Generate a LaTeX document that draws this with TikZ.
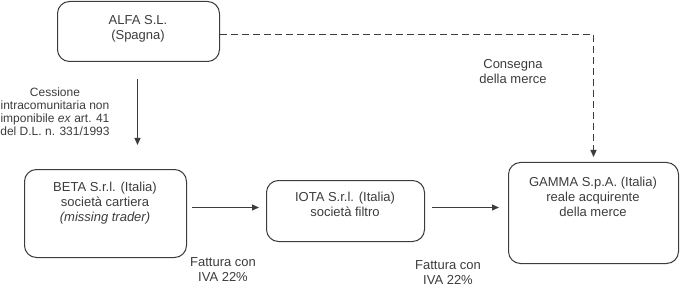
\documentclass[tikz,border=0pt]{standalone}
\usepackage{fontspec}
\setmainfont{Liberation Sans}
\usetikzlibrary{arrows.meta}
\definecolor{ink}{RGB}{60,60,60}
\begin{document}
\begin{tikzpicture}[x=1pt,y=-1pt,every node/.style={font=\fontsize{13}{15}\selectfont,text=ink,align=center},
  box/.style={draw=ink,line width=1pt,rounded corners=12pt,anchor=north west,inner sep=0pt},
  arr/.style={draw=ink,line width=1.1pt,-{Triangle[length=7pt,width=6pt]}}]
\useasboundingbox (0,0) rectangle (680,302);
\node[box,minimum width=162pt,minimum height=60pt] (alfa) at (57,1) {}; \node (alfatxt) at (138,28.5) {ALFA S.L.\\(Spagna)};
\node[box,minimum width=162pt,minimum height=88pt] (beta) at (24,169) {}; \node (betatxt) at (105,203) {BETA S.r.l. (Italia)\\società cartiera\\\textit{(missing trader)}};
\node[box,minimum width=158pt,minimum height=61pt] (iota) at (266,180) {}; \node (iotatxt) at (345,204.5) {IOTA S.r.l. (Italia)\\società filtro};
\node[box,minimum width=170pt,minimum height=101pt] (gamma) at (508,162) {}; \node (gammatxt) at (593,197) {GAMMA S.p.A. (Italia)\\reale acquirente\\della merce};
\node[font=\fontsize{12}{13}\selectfont] (cessione) at (55,111.5) {Cessione\\intracomunitaria non\\imponibile \textit{ex} art. 41\\del D.L. n. 331/1993};
\node (consegna) at (513,71.5) {Consegna\\della merce};
\node (fattura1) at (223,269.5) {Fattura con\\IVA 22\%};
\node (fattura2) at (448,272.5) {Fattura con\\IVA 22\%};
\draw[arr,shorten <=17pt,shorten >=24pt] ([xshift=-1pt]alfa.south) -- ([xshift=-1pt]alfa.south |- beta.north);
\draw[arr,shorten <=5pt,shorten >=7pt] ([yshift=6pt]beta.east) -- ([yshift=3.5pt]iota.west);
\draw[arr,shorten <=7pt,shorten >=9pt] ([yshift=3.5pt]iota.east) -- ([yshift=3.5pt]gamma.west |- iota.east);
\draw[arr,dash pattern=on 7pt off 4pt,shorten >=5pt] ([yshift=-3pt]alfa.east) -| (gamma.north);
\end{tikzpicture}
\end{document}
